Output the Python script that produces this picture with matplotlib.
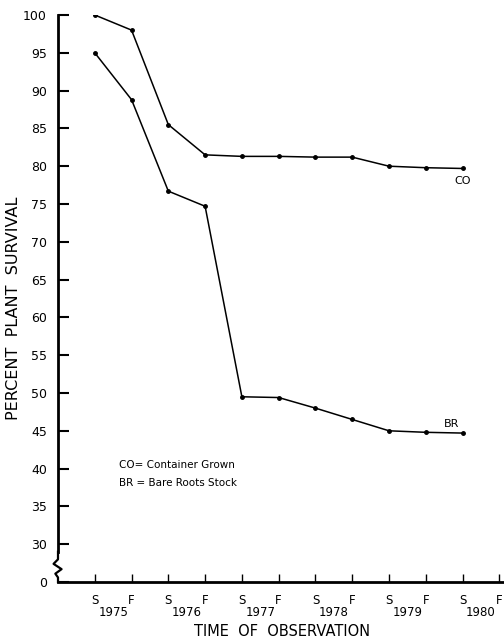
import matplotlib.pyplot as plt
from matplotlib import transforms

# observation times (spring / fall), 1975 - 1980
seasons = ['S', 'F', 'S', 'F', 'S', 'F', 'S', 'F', 'S', 'F', 'S', 'F']
years = ['1975', '1976', '1977', '1978', '1979', '1980']

# percent survival at each observation
co_survival = [100, 98, 85.5, 81.5, 81.3, 81.3, 81.2, 81.2, 80.0, 79.8, 79.7]
br_survival = [95, 88.8, 76.7, 74.7, 49.5, 49.4, 48.0, 46.5, 45.0, 44.8, 44.7]

y_ticks = [30, 35, 40, 45, 50, 55, 60, 65, 70, 75, 80, 85, 90, 95, 100]
y_zero = 25  # where the broken axis puts 0

plt.rcParams['font.family'] = 'DejaVu Sans'

fig = plt.figure(figsize=(5.04, 6.44), dpi=100)
ax = fig.add_axes([58 / 504, 62 / 644, 445 / 504, 567 / 644])

x = list(range(len(co_survival)))
ax.plot(x, co_survival, 'k-', marker='o', ms=2.5, lw=1.1)
ax.plot(x, br_survival, 'k-', marker='o', ms=2.5, lw=1.1)

ax.set_xlim(-1, 11.1)
ax.set_ylim(y_zero, 100)

ax.set_yticks([y_zero] + y_ticks)
ax.set_yticklabels(['0'] + [str(v) for v in y_ticks], fontsize=9)
ax.set_xticks(range(len(seasons)))
ax.set_xticklabels(seasons, fontsize=8.5)
ax.tick_params(axis='y', direction='in', length=8, width=1.5, pad=8)
ax.tick_params(axis='x', direction='in', length=6, width=1, pad=9)

for s in ['top', 'right']:
    ax.spines[s].set_visible(False)
ax.spines['left'].set_linewidth(2)
ax.spines['bottom'].set_linewidth(2)
ax.spines['left'].set_bounds(29, 100)

# axis break on the y axis
trans = transforms.blended_transform_factory(ax.transAxes, ax.transData)
ax.plot([0, 0, -0.01, 0.008, -0.006, 0, 0], [29, 28, 27.4, 26.7, 26.1, 25.6, y_zero],
        'k-', lw=1.6, transform=trans, clip_on=False)

# year labels between S and F
xtrans = ax.get_xaxis_transform()
for i, yr in enumerate(years):
    ax.text(2 * i + 0.5, -0.054, yr, transform=xtrans, ha='center', va='center', fontsize=8.5)

ax.text(x[-1], co_survival[-1] - 1.0, 'CO', ha='center', va='top', fontsize=8)
ax.text(x[-1] - 0.3, br_survival[-1] + 0.6, 'BR', ha='center', va='bottom', fontsize=8)

ax.text(0.65, 40.5, 'CO= Container Grown', fontsize=7.5, va='center')
ax.text(0.65, 38.1, 'BR = Bare Roots Stock', fontsize=7.5, va='center')

fig.text(14 / 504, 1 - 308 / 644, 'PERCENT  PLANT  SURVIVAL', rotation=90,
         ha='center', va='center', fontsize=11.5)
fig.text(282 / 504, 1 - 632 / 644, 'TIME  OF  OBSERVATION', ha='center', va='center', fontsize=10.5)

fig.savefig('out.png', dpi=100)
